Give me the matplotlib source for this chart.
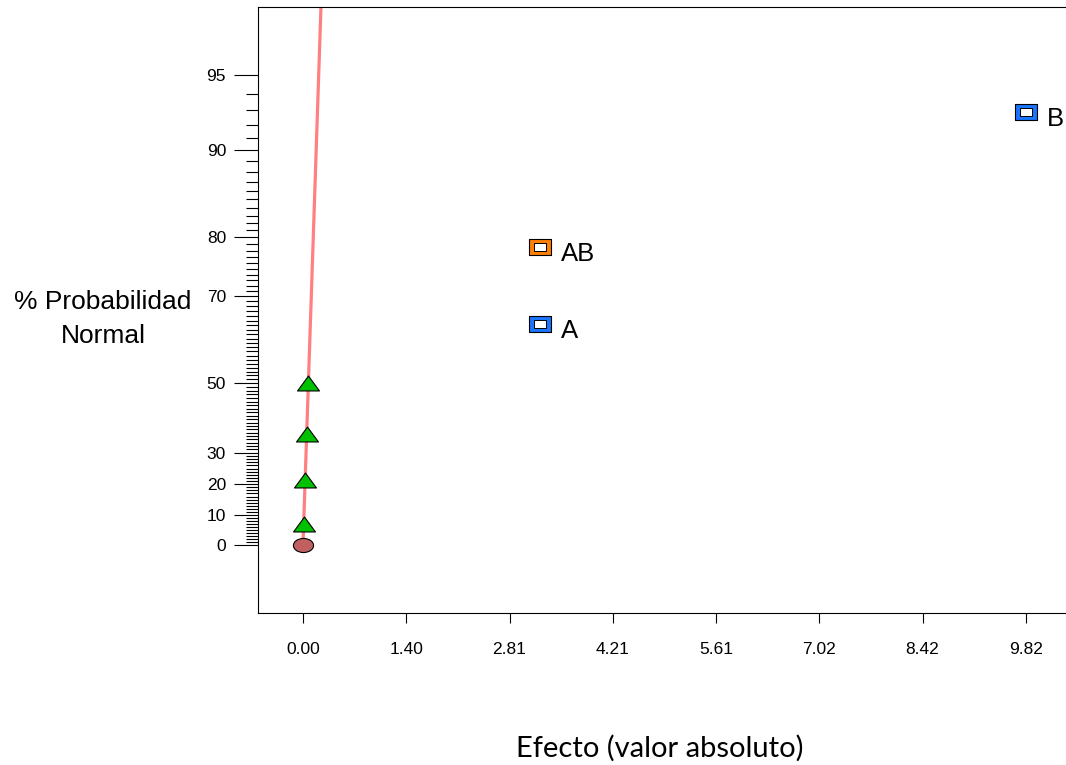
import numpy as np
import matplotlib
matplotlib.use("Agg")
import matplotlib.pyplot as plt
from matplotlib.path import Path
from matplotlib.ticker import FixedLocator
from statistics import NormalDist

# effects (absolute value) and half-normal probabilities (%)
err_effect = [0.014, 0.031, 0.050, 0.068]
err_prob = [7.1, 21.4, 35.7, 50.0]
term_names = ["A", "AB", "B"]
term_effect = [3.22, 3.22, 9.82]
term_prob = [64.3, 78.6, 92.9]
term_colors = ["#1a75ff", "#ff8000", "#1a75ff"]
zero_effect = [0.0]
zero_prob = [0.0]
line_effect = [0.0, 0.281]
line_prob = [0.0, 99.0]

xtick_vals = [0.0, 1.403, 2.806, 4.209, 5.612, 7.015, 8.418, 9.821]
xtick_labels = ["0.00", "1.40", "2.81", "4.21", "5.61", "7.02", "8.42", "9.82"]
ytick_vals = [0, 10, 20, 30, 50, 70, 80, 90, 95]
yminor_vals = [v for v in range(1, 95) if v not in ytick_vals]

nd = NormalDist()


def fwd(p):
    p = np.clip(np.asarray(p, dtype=float), -99.9999, 99.9999)
    return np.vectorize(lambda v: nd.inv_cdf(0.5 + v / 200.0))(p)


def inv(z):
    z = np.asarray(z, dtype=float)
    return np.vectorize(lambda v: 200.0 * (nd.cdf(v) - 0.5))(z)


def rect_marker(h):
    return Path([(-1, -h), (1, -h), (1, h), (-1, h), (-1, -h)],
                [Path.MOVETO, Path.LINETO, Path.LINETO, Path.LINETO, Path.CLOSEPOLY])


tri = Path([(-1, -0.68), (1, -0.68), (0, 0.68), (-1, -0.68)],
           [Path.MOVETO, Path.LINETO, Path.LINETO, Path.CLOSEPOLY])
ell = Path.unit_circle().transformed(matplotlib.transforms.Affine2D().scale(1, 0.7))

plt.rcParams['font.family'] = ['Liberation Sans', 'DejaVu Sans']

fig = plt.figure(figsize=(10.66, 7.65), dpi=100)
ax = fig.add_axes([258 / 1066, 1 - 613 / 765, (1070 - 258) / 1066, (613 - 7) / 765])
ax.set_yscale('function', functions=(fwd, inv))

ax.plot(line_effect, line_prob, color="#ff8080", lw=2.3, zorder=2, solid_capstyle='butt')
ax.plot(err_effect, err_prob, linestyle='none', marker=tri, markersize=15.8,
        markerfacecolor="#00c000", markeredgecolor="black", markeredgewidth=0.8, zorder=3)
ax.plot(zero_effect, zero_prob, linestyle='none', marker=ell, markersize=14.5,
        markerfacecolor="#c06060", markeredgecolor="black", markeredgewidth=0.8, zorder=3)

for name, x, p, c in zip(term_names, term_effect, term_prob, term_colors):
    ax.plot([x], [p], linestyle='none', marker=rect_marker(0.68), markersize=16,
            markerfacecolor=c, markeredgecolor="black", markeredgewidth=0.8, zorder=3)
    ax.plot([x], [p], linestyle='none', marker=rect_marker(0.6), markersize=8.6,
            markerfacecolor="white", markeredgecolor="black", markeredgewidth=0.7, zorder=4)
    ax.annotate(name, (x, p), xytext=(15, -5), textcoords='offset points',
                ha='left', va='center', fontsize=18.5)

ax.set_xlim(-0.611, (1070 - 303) / 73.6)
ax.set_ylim(-22.3, 97.5)

ax.set_xticks(xtick_vals)
ax.set_xticklabels(xtick_labels)
ax.yaxis.set_major_locator(FixedLocator(ytick_vals))
ax.yaxis.set_minor_locator(FixedLocator(yminor_vals))
ax.set_yticklabels([str(v) for v in ytick_vals])
ax.xaxis.set_minor_locator(FixedLocator([]))

ax.tick_params(axis='x', direction='out', length=7, width=0.8, pad=14, labelsize=12.5)
ax.tick_params(axis='y', which='major', direction='out', length=17, width=0.8, pad=6, labelsize=12.5)
ax.tick_params(axis='y', which='minor', direction='out', length=9, width=0.8)
for s in ax.spines.values():
    s.set_linewidth(0.8)

fig.text(103 / 1066, 1 - 319 / 765, "% Probabilidad\nNormal", ha='center', va='center',
         fontsize=19, linespacing=1.5)
fig.text(660 / 1066, 1 - 748 / 765, "Efecto (valor absoluto)", ha='center', va='center',
         fontsize=21, family=['Lato', 'DejaVu Sans'])

fig.savefig("out.png", dpi=100)
